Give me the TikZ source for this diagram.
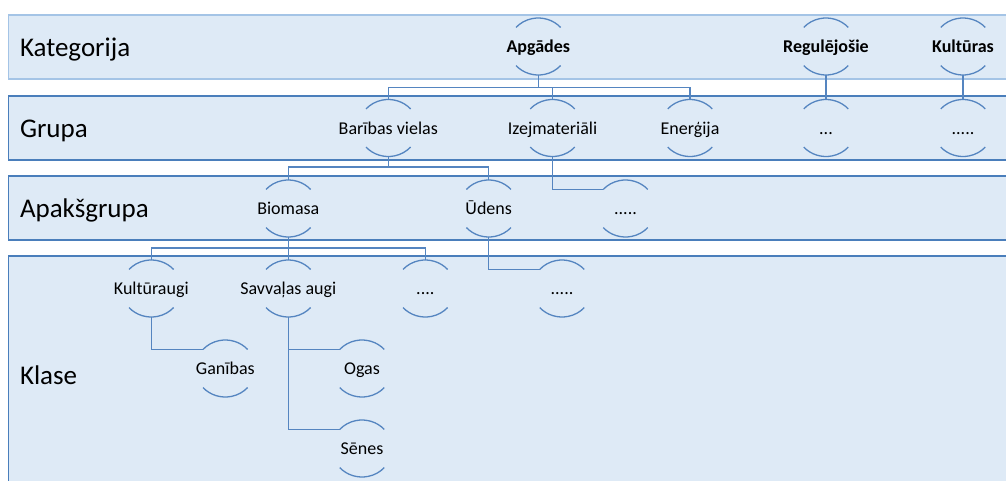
\documentclass[tikz,border=0pt]{standalone}
\usepackage{fontspec}
\setmainfont{Carlito}
\usetikzlibrary{calc}

\definecolor{bandfill}{HTML}{DEEAF6}
\definecolor{bandedge}{HTML}{4A7EBB}
\definecolor{bandedgelight}{HTML}{A4C4E6}
\definecolor{linkblue}{HTML}{5585C0}

\tikzset{
  band/.style={fill=bandfill, draw=bandedge, line width=1.3pt},
  bandlabel/.style={anchor=base west, inner sep=0pt, outer sep=0pt,
    font=\fontsize{27}{32}\selectfont},
  item/.style={rectangle, inner sep=0pt, outer sep=0pt,
    minimum width=60pt, minimum height=57pt,
    text height=12pt, text depth=0pt,
    font=\fontsize{18}{22}\selectfont},
  head/.style={font=\fontsize{18}{22}\selectfont\bfseries},
  arcline/.style={draw=linkblue, line width=1.3pt},
  link/.style={draw=linkblue, line width=1.3pt},
}

% An item: text with an arc above and an arc below;
% the coordinate <name>-tl is the left end of the upper arc.
\newcommand\treeitem[4][]{%
  \node[item,#1] (#2) at (#3) {\makebox[0pt]{#4}};
  \draw[arcline] (#2.center) ++(42:30pt and 28.5pt)
    arc[start angle=42, end angle=138, x radius=30pt, y radius=28.5pt]
    coordinate (#2-tl);
  \draw[arcline] (#2.center) ++(222:30pt and 28.5pt)
    arc[start angle=222, end angle=318, x radius=30pt, y radius=28.5pt];
}

\begin{document}
\begin{tikzpicture}[x=1pt, y=-1pt]
\useasboundingbox (0,0) rectangle (1006,480);
\clip (0,0) rectangle (1006,480);
\fill[white] (0,0) rectangle (1006,480);

% level bands
\draw[band, draw=bandedgelight] (8.5,15) rectangle (1030,79);
\draw[band] (8.5,96) rectangle (1030,160);
\draw[band] (8.5,176) rectangle (1030,240);
\draw[band] (8.5,256) rectangle (1030,520);

\node[bandlabel] (lk) at (20,56) {Kategorija};
\node[bandlabel] (lg) at (20,137) {Grupa};
\node[bandlabel] (la) at (20,217) {Apakšgrupa};
\node[bandlabel] (lc) at (20,384) {Klase};

% items
\treeitem[head]{apg}{538.3,46.5}{Apgādes}
\treeitem[head]{reg}{826,46.5}{Regulējošie}
\treeitem[head]{kul}{963,46.5}{Kultūras}

\treeitem{bar}{388.3,128}{Barības vielas}
\treeitem{izj}{552.5,128}{Izejmateriāli}
\treeitem{ene}{690,128}{Enerģija}
\treeitem{regx}{826,128}{...}
\treeitem{kulx}{963,128}{.....}

\treeitem{bio}{288.3,208.5}{Biomasa}
\treeitem{ude}{488.7,208.5}{Ūdens}
\treeitem{izjx}{625.5,208.5}{.....}

\treeitem{kult}{151.3,288.5}{Kultūraugi}
\treeitem{savv}{288.3,288.5}{Savvaļas augi}
\treeitem{biox}{425.3,288.5}{....}
\treeitem{udex}{562,288.5}{.....}

\treeitem{gan}{225.3,368.5}{Ganības}
\treeitem{ogas}{362,368.5}{Ogas}
\treeitem{sen}{362,448.5}{Sēnes}

% connectors
\draw[link] (apg.south) -- ++(0,12.5) -| (bar.north);
\draw[link] (apg.south) -- ++(0,12.5) -| (izj.north);
\draw[link] (apg.south) -- ++(0,12.5) -| (ene.north);
\draw[link] (reg.south) -- (regx.north);
\draw[link] (kul.south) -- (kulx.north);

\draw[link] (bar.south) -- ++(0,10.5) -| (bio.north);
\draw[link] (bar.south) -- ++(0,10.5) -| (ude.north);
\draw[link] (izj.south) |- (izjx-tl);

\draw[link] (bio.south) -- ++(0,11) -| (kult.north);
\draw[link] (bio.south) -- ++(0,11) -| (savv.north);
\draw[link] (bio.south) -- ++(0,11) -| (biox.north);
\draw[link] (ude.south) |- (udex-tl);

\draw[link] (kult.south) |- (gan-tl);
\draw[link] (savv.south) |- (ogas-tl);
\draw[link] (savv.south) |- (sen-tl);
\end{tikzpicture}
\end{document}
